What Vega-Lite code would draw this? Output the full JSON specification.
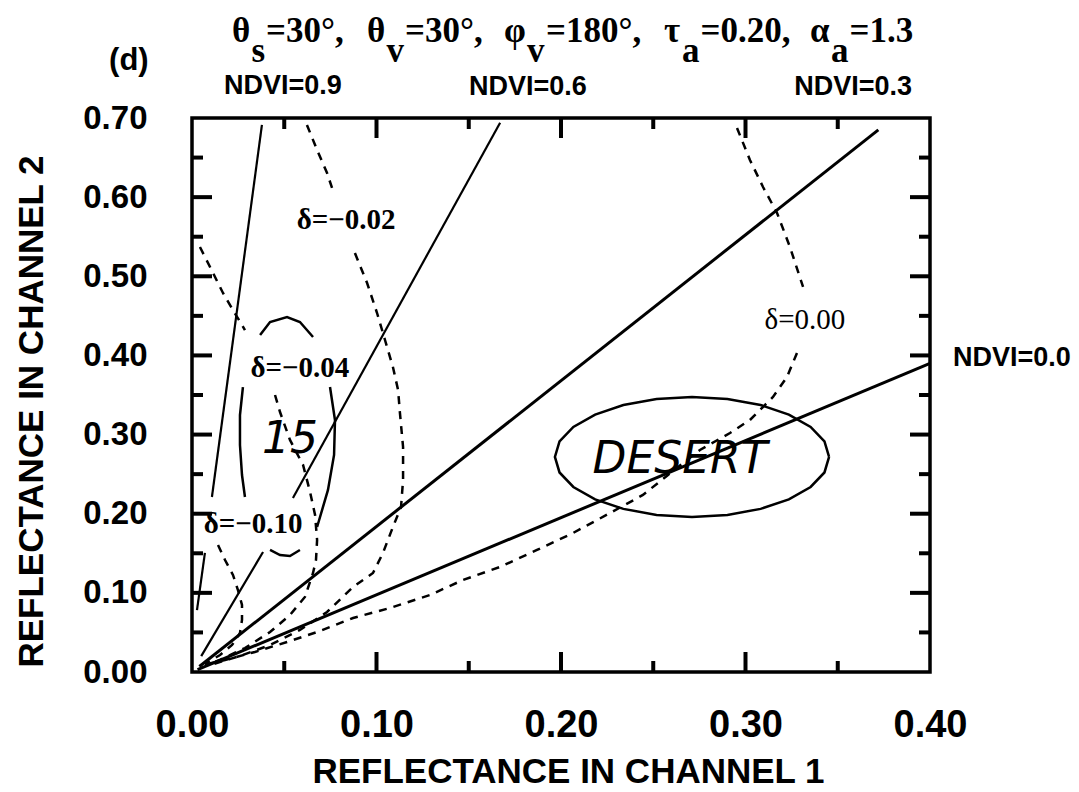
{
  "$schema": "https://vega.github.io/schema/vega-lite/v6.json",
  "width": 738,
  "height": 554,
  "autosize": {"type": "none"},
  "padding": {"left": 192, "top": 118, "right": 149, "bottom": 120},
  "background": "white",
  "config": {
    "view": {"stroke": "black", "strokeWidth": 3.5},
    "axis": {"grid": false, "domain": false}
  },
  "datasets": {
    "ndvi": [
      {"x": 0.003, "y": 0.003, "line": "0.0", "seg": "0.0"},
      {"x": 0.40, "y": 0.39, "line": "0.0", "seg": "0.0"},
      {"x": 0.004, "y": 0.007, "line": "0.3", "seg": "0.3"},
      {"x": 0.372, "y": 0.685, "line": "0.3", "seg": "0.3"},
      {"x": 0.005, "y": 0.020, "line": "0.6", "seg": "0.6a"},
      {"x": 0.0385, "y": 0.1516, "line": "0.6", "seg": "0.6a"},
      {"x": 0.0547, "y": 0.2199, "line": "0.6", "seg": "0.6b"},
      {"x": 0.167, "y": 0.694, "line": "0.6", "seg": "0.6b"},
      {"x": 0.0027, "y": 0.0783, "line": "0.9", "seg": "0.9a"},
      {"x": 0.0070, "y": 0.1504, "line": "0.9", "seg": "0.9a"},
      {"x": 0.0108, "y": 0.2211, "line": "0.9", "seg": "0.9b"},
      {"x": 0.0379, "y": 0.6912, "line": "0.9", "seg": "0.9b"}
    ],
    "ticks": [
      {"side": "bottom", "kind": "major", "x": 0.1, "y": 0},
      {"side": "bottom", "kind": "major", "x": 0.2, "y": 0},
      {"side": "bottom", "kind": "major", "x": 0.3, "y": 0},
      {"side": "bottom", "kind": "minor", "x": 0.05, "y": 0},
      {"side": "bottom", "kind": "minor", "x": 0.15, "y": 0},
      {"side": "bottom", "kind": "minor", "x": 0.25, "y": 0},
      {"side": "bottom", "kind": "minor", "x": 0.35, "y": 0},
      {"side": "top", "kind": "major", "x": 0.1, "y": 0.7},
      {"side": "top", "kind": "major", "x": 0.2, "y": 0.7},
      {"side": "top", "kind": "major", "x": 0.3, "y": 0.7},
      {"side": "top", "kind": "minor", "x": 0.05, "y": 0.7},
      {"side": "top", "kind": "minor", "x": 0.15, "y": 0.7},
      {"side": "top", "kind": "minor", "x": 0.25, "y": 0.7},
      {"side": "top", "kind": "minor", "x": 0.35, "y": 0.7},
      {"side": "left", "kind": "major", "x": 0, "y": 0.1},
      {"side": "left", "kind": "major", "x": 0, "y": 0.2},
      {"side": "left", "kind": "major", "x": 0, "y": 0.3},
      {"side": "left", "kind": "major", "x": 0, "y": 0.4},
      {"side": "left", "kind": "major", "x": 0, "y": 0.5},
      {"side": "left", "kind": "major", "x": 0, "y": 0.6},
      {"side": "left", "kind": "minor", "x": 0, "y": 0.05},
      {"side": "left", "kind": "minor", "x": 0, "y": 0.15},
      {"side": "left", "kind": "minor", "x": 0, "y": 0.25},
      {"side": "left", "kind": "minor", "x": 0, "y": 0.35},
      {"side": "left", "kind": "minor", "x": 0, "y": 0.45},
      {"side": "left", "kind": "minor", "x": 0, "y": 0.55},
      {"side": "left", "kind": "minor", "x": 0, "y": 0.65},
      {"side": "right", "kind": "major", "x": 0.4, "y": 0.1},
      {"side": "right", "kind": "major", "x": 0.4, "y": 0.2},
      {"side": "right", "kind": "major", "x": 0.4, "y": 0.3},
      {"side": "right", "kind": "major", "x": 0.4, "y": 0.4},
      {"side": "right", "kind": "major", "x": 0.4, "y": 0.5},
      {"side": "right", "kind": "major", "x": 0.4, "y": 0.6},
      {"side": "right", "kind": "minor", "x": 0.4, "y": 0.05},
      {"side": "right", "kind": "minor", "x": 0.4, "y": 0.15},
      {"side": "right", "kind": "minor", "x": 0.4, "y": 0.25},
      {"side": "right", "kind": "minor", "x": 0.4, "y": 0.35},
      {"side": "right", "kind": "minor", "x": 0.4, "y": 0.45},
      {"side": "right", "kind": "minor", "x": 0.4, "y": 0.55},
      {"side": "right", "kind": "minor", "x": 0.4, "y": 0.65}
    ],
    "delta": [
      {"c": "0.00", "seg": "0a", "o": 1, "x": 0.2954, "y": 0.6874},
      {"c": "0.00", "seg": "0a", "o": 2, "x": 0.3024, "y": 0.6470},
      {"c": "0.00", "seg": "0a", "o": 3, "x": 0.3095, "y": 0.6128},
      {"c": "0.00", "seg": "0a", "o": 4, "x": 0.3171, "y": 0.5800},
      {"c": "0.00", "seg": "0a", "o": 5, "x": 0.3241, "y": 0.5370},
      {"c": "0.00", "seg": "0a", "o": 6, "x": 0.3312, "y": 0.4865},
      {"c": "0.00", "seg": "0b", "o": 1, "x": 0.3279, "y": 0.4031},
      {"c": "0.00", "seg": "0b", "o": 2, "x": 0.3225, "y": 0.3728},
      {"c": "0.00", "seg": "0b", "o": 3, "x": 0.3149, "y": 0.3475},
      {"c": "0.00", "seg": "0b", "o": 4, "x": 0.3024, "y": 0.3184},
      {"c": "0.00", "seg": "0b", "o": 5, "x": 0.2916, "y": 0.3020},
      {"c": "0.00", "seg": "0b", "o": 6, "x": 0.2753, "y": 0.2805},
      {"c": "0.00", "seg": "0b", "o": 7, "x": 0.2575, "y": 0.2480},
      {"c": "0.00", "seg": "0b", "o": 8, "x": 0.2444, "y": 0.2237},
      {"c": "0.00", "seg": "0b", "o": 9, "x": 0.2266, "y": 0.2009},
      {"c": "0.00", "seg": "0b", "o": 10, "x": 0.2065, "y": 0.1756},
      {"c": "0.00", "seg": "0b", "o": 11, "x": 0.1870, "y": 0.1542},
      {"c": "0.00", "seg": "0b", "o": 12, "x": 0.1669, "y": 0.1327},
      {"c": "0.00", "seg": "0b", "o": 13, "x": 0.1469, "y": 0.1163},
      {"c": "0.00", "seg": "0b", "o": 14, "x": 0.1290, "y": 0.0973},
      {"c": "0.00", "seg": "0b", "o": 15, "x": 0.1073, "y": 0.0809},
      {"c": "0.00", "seg": "0b", "o": 16, "x": 0.0873, "y": 0.0682},
      {"c": "0.00", "seg": "0b", "o": 17, "x": 0.0678, "y": 0.0505},
      {"c": "0.00", "seg": "0b", "o": 18, "x": 0.0515, "y": 0.0379},
      {"c": "0.00", "seg": "0b", "o": 19, "x": 0.0341, "y": 0.0253},
      {"c": "0.00", "seg": "0b", "o": 20, "x": 0.0179, "y": 0.0152},
      {"c": "0.00", "seg": "0b", "o": 21, "x": 0.0081, "y": 0.0101},
      {"c": "-0.02", "seg": "2a", "o": 1, "x": 0.0623, "y": 0.6912},
      {"c": "-0.02", "seg": "2a", "o": 2, "x": 0.0678, "y": 0.6596},
      {"c": "-0.02", "seg": "2a", "o": 3, "x": 0.0732, "y": 0.6305},
      {"c": "-0.02", "seg": "2a", "o": 4, "x": 0.0759, "y": 0.6116},
      {"c": "-0.02", "seg": "2b", "o": 1, "x": 0.0883, "y": 0.5294},
      {"c": "-0.02", "seg": "2b", "o": 2, "x": 0.0949, "y": 0.4915},
      {"c": "-0.02", "seg": "2b", "o": 3, "x": 0.1003, "y": 0.4536},
      {"c": "-0.02", "seg": "2b", "o": 4, "x": 0.1046, "y": 0.4195},
      {"c": "-0.02", "seg": "2b", "o": 5, "x": 0.1089, "y": 0.3854},
      {"c": "-0.02", "seg": "2b", "o": 6, "x": 0.1117, "y": 0.3563},
      {"c": "-0.02", "seg": "2b", "o": 7, "x": 0.1127, "y": 0.3273},
      {"c": "-0.02", "seg": "2b", "o": 8, "x": 0.1144, "y": 0.2843},
      {"c": "-0.02", "seg": "2b", "o": 9, "x": 0.1144, "y": 0.2426},
      {"c": "-0.02", "seg": "2b", "o": 10, "x": 0.1133, "y": 0.2085},
      {"c": "-0.02", "seg": "2b", "o": 11, "x": 0.1089, "y": 0.1832},
      {"c": "-0.02", "seg": "2b", "o": 12, "x": 0.1035, "y": 0.1504},
      {"c": "-0.02", "seg": "2b", "o": 13, "x": 0.0981, "y": 0.1251},
      {"c": "-0.02", "seg": "2b", "o": 14, "x": 0.0873, "y": 0.1074},
      {"c": "-0.02", "seg": "2b", "o": 15, "x": 0.0732, "y": 0.0758},
      {"c": "-0.02", "seg": "2b", "o": 16, "x": 0.0585, "y": 0.0531},
      {"c": "-0.02", "seg": "2b", "o": 17, "x": 0.0423, "y": 0.0341},
      {"c": "-0.02", "seg": "2b", "o": 18, "x": 0.0260, "y": 0.0202},
      {"c": "-0.02", "seg": "2b", "o": 19, "x": 0.0098, "y": 0.0088},
      {"c": "-0.04", "seg": "4a", "o": 1, "x": 0.0043, "y": 0.5370},
      {"c": "-0.04", "seg": "4a", "o": 2, "x": 0.0114, "y": 0.5042},
      {"c": "-0.04", "seg": "4a", "o": 3, "x": 0.0168, "y": 0.4789},
      {"c": "-0.04", "seg": "4a", "o": 4, "x": 0.0222, "y": 0.4574},
      {"c": "-0.04", "seg": "4a", "o": 5, "x": 0.0287, "y": 0.4321},
      {"c": "-0.04", "seg": "4b", "o": 1, "x": 0.0450, "y": 0.3500},
      {"c": "-0.04", "seg": "4b", "o": 2, "x": 0.0477, "y": 0.3285},
      {"c": "-0.04", "seg": "4b", "o": 3, "x": 0.0531, "y": 0.2932},
      {"c": "-0.04", "seg": "4b", "o": 4, "x": 0.0602, "y": 0.2616},
      {"c": "-0.04", "seg": "4b", "o": 5, "x": 0.0640, "y": 0.2274},
      {"c": "-0.04", "seg": "4b", "o": 6, "x": 0.0667, "y": 0.1984},
      {"c": "-0.04", "seg": "4b", "o": 7, "x": 0.0678, "y": 0.1668},
      {"c": "-0.04", "seg": "4b", "o": 8, "x": 0.0672, "y": 0.1415},
      {"c": "-0.04", "seg": "4b", "o": 9, "x": 0.0656, "y": 0.1251},
      {"c": "-0.04", "seg": "4b", "o": 10, "x": 0.0612, "y": 0.0948},
      {"c": "-0.04", "seg": "4b", "o": 11, "x": 0.0531, "y": 0.0720},
      {"c": "-0.04", "seg": "4b", "o": 12, "x": 0.0423, "y": 0.0505},
      {"c": "-0.04", "seg": "4b", "o": 13, "x": 0.0287, "y": 0.0303},
      {"c": "-0.04", "seg": "4b", "o": 14, "x": 0.0152, "y": 0.0152},
      {"c": "-0.04", "seg": "4b", "o": 15, "x": 0.0070, "y": 0.0088},
      {"c": "-0.10", "seg": "10", "o": 1, "x": 0.0141, "y": 0.1605},
      {"c": "-0.10", "seg": "10", "o": 2, "x": 0.0179, "y": 0.1415},
      {"c": "-0.10", "seg": "10", "o": 3, "x": 0.0222, "y": 0.1226},
      {"c": "-0.10", "seg": "10", "o": 4, "x": 0.0249, "y": 0.1036},
      {"c": "-0.10", "seg": "10", "o": 5, "x": 0.0271, "y": 0.0847},
      {"c": "-0.10", "seg": "10", "o": 6, "x": 0.0271, "y": 0.0657},
      {"c": "-0.10", "seg": "10", "o": 7, "x": 0.0260, "y": 0.0493},
      {"c": "-0.10", "seg": "10", "o": 8, "x": 0.0217, "y": 0.0341},
      {"c": "-0.10", "seg": "10", "o": 9, "x": 0.0152, "y": 0.0215},
      {"c": "-0.10", "seg": "10", "o": 10, "x": 0.0070, "y": 0.0101}
    ],
    "pen": [
      {"seg": "arcTop", "o": 1, "x": 0.0369, "y": 0.4258},
      {"seg": "arcTop", "o": 2, "x": 0.0423, "y": 0.4422},
      {"seg": "arcTop", "o": 3, "x": 0.0515, "y": 0.4486},
      {"seg": "arcTop", "o": 4, "x": 0.0585, "y": 0.4422},
      {"seg": "arcTop", "o": 5, "x": 0.0656, "y": 0.4233},
      {"seg": "parenL", "o": 1, "x": 0.0276, "y": 0.3601},
      {"seg": "parenL", "o": 2, "x": 0.0260, "y": 0.3247},
      {"seg": "parenL", "o": 3, "x": 0.0260, "y": 0.2868},
      {"seg": "parenL", "o": 4, "x": 0.0271, "y": 0.2489},
      {"seg": "parenL", "o": 5, "x": 0.0287, "y": 0.2211},
      {"seg": "parenR", "o": 1, "x": 0.0748, "y": 0.3601},
      {"seg": "parenR", "o": 2, "x": 0.0775, "y": 0.3184},
      {"seg": "parenR", "o": 3, "x": 0.0770, "y": 0.2742},
      {"seg": "parenR", "o": 4, "x": 0.0737, "y": 0.2300},
      {"seg": "parenR", "o": 5, "x": 0.0678, "y": 0.1832},
      {"seg": "arcBot", "o": 1, "x": 0.0423, "y": 0.1542},
      {"seg": "arcBot", "o": 2, "x": 0.0477, "y": 0.1478},
      {"seg": "arcBot", "o": 3, "x": 0.0531, "y": 0.1466},
      {"seg": "arcBot", "o": 4, "x": 0.0585, "y": 0.1542},
      {"seg": "ellipse", "o": 1, "x": 0.3453, "y": 0.2717},
      {"seg": "ellipse", "o": 2, "x": 0.3428, "y": 0.2913},
      {"seg": "ellipse", "o": 3, "x": 0.3353, "y": 0.3096},
      {"seg": "ellipse", "o": 4, "x": 0.3235, "y": 0.3253},
      {"seg": "ellipse", "o": 5, "x": 0.3082, "y": 0.3373},
      {"seg": "ellipse", "o": 6, "x": 0.2902, "y": 0.3449},
      {"seg": "ellipse", "o": 7, "x": 0.2710, "y": 0.3475},
      {"seg": "ellipse", "o": 8, "x": 0.2518, "y": 0.3449},
      {"seg": "ellipse", "o": 9, "x": 0.2338, "y": 0.3373},
      {"seg": "ellipse", "o": 10, "x": 0.2185, "y": 0.3253},
      {"seg": "ellipse", "o": 11, "x": 0.2067, "y": 0.3096},
      {"seg": "ellipse", "o": 12, "x": 0.1992, "y": 0.2913},
      {"seg": "ellipse", "o": 13, "x": 0.1967, "y": 0.2717},
      {"seg": "ellipse", "o": 14, "x": 0.1992, "y": 0.2521},
      {"seg": "ellipse", "o": 15, "x": 0.2067, "y": 0.2338},
      {"seg": "ellipse", "o": 16, "x": 0.2185, "y": 0.2181},
      {"seg": "ellipse", "o": 17, "x": 0.2338, "y": 0.2061},
      {"seg": "ellipse", "o": 18, "x": 0.2518, "y": 0.1985},
      {"seg": "ellipse", "o": 19, "x": 0.2710, "y": 0.1959},
      {"seg": "ellipse", "o": 20, "x": 0.2902, "y": 0.1985},
      {"seg": "ellipse", "o": 21, "x": 0.3082, "y": 0.2061},
      {"seg": "ellipse", "o": 22, "x": 0.3235, "y": 0.2181},
      {"seg": "ellipse", "o": 23, "x": 0.3353, "y": 0.2338},
      {"seg": "ellipse", "o": 24, "x": 0.3428, "y": 0.2521},
      {"seg": "ellipse", "o": 25, "x": 0.3453, "y": 0.2717}
    ],
    "sansLabels": [
      {"x": 0.0493, "y": 0.7405, "t": "NDVI=0.9"},
      {"x": 0.1821, "y": 0.7392, "t": "NDVI=0.6"},
      {"x": 0.3583, "y": 0.7392, "t": "NDVI=0.3"},
      {"x": 0.4444, "y": 0.3968, "t": "NDVI=0.0"}
    ],
    "panel": [
      {"x": -0.0342, "y": 0.7720, "t": "(d)"}
    ],
    "deltaBold": [
      {"x": 0.0835, "y": 0.5711, "t": "δ=−0.02"},
      {"x": 0.0585, "y": 0.3841, "t": "δ=−0.04"},
      {"x": 0.0331, "y": 0.1870, "t": "δ=−0.10"}
    ],
    "deltaPlain": [
      {"x": 0.3322, "y": 0.4448, "t": "δ=0.00"}
    ],
    "titlePieces": [
      {"x": 0.02168, "y": 0.7961, "t": "θ"},
      {"x": 0.04011, "y": 0.7961, "t": "=30°,"},
      {"x": 0.09485, "y": 0.7961, "t": "θ"},
      {"x": 0.11545, "y": 0.7961, "t": "=30°,"},
      {"x": 0.16911, "y": 0.7961, "t": "φ"},
      {"x": 0.19187, "y": 0.7961, "t": "=180°,"},
      {"x": 0.25583, "y": 0.7961, "t": "τ"},
      {"x": 0.27561, "y": 0.7961, "t": "=0.20,"},
      {"x": 0.33496, "y": 0.7961, "t": "α"},
      {"x": 0.35637, "y": 0.7961, "t": "=1.3"},
      {"x": 0.03225, "y": 0.7708, "t": "s"},
      {"x": 0.10542, "y": 0.7708, "t": "v"},
      {"x": 0.18157, "y": 0.7708, "t": "v"},
      {"x": 0.26558, "y": 0.7708, "t": "a"},
      {"x": 0.34634, "y": 0.7708, "t": "a"}
    ],
    "hand": [
      {"x": 0.2645, "y": 0.2679, "t": "DESERT"},
      {"x": 0.0531, "y": 0.2932, "t": "15"}
    ]
  },
  "resolve": {"axis": {"x": "independent", "y": "independent"}},
  "layer": [
    {
      "data": {"name": "ndvi"},
      "mark": {"type": "line", "color": "black"},
      "encoding": {
        "x": {
          "field": "x", "type": "quantitative",
          "scale": {"domain": [0, 0.4], "nice": false, "zero": false},
          "axis": {
            "orient": "bottom", "values": [0, 0.1, 0.2, 0.3, 0.4], "format": ".2f",
            "ticks": false, "labelPadding": 34, "labelFlush": false, "labelOverlap": false, "labelBound": false,
            "labelFont": "Liberation Sans", "labelFontWeight": "bold", "labelFontSize": 38, "labelColor": "black",
            "title": "REFLECTANCE IN CHANNEL 1", "titleFont": "Liberation Sans", "titleFontWeight": "bold",
            "titleFontSize": 35, "titleColor": "black", "titleX": 376, "titleY": 110,
            "titleBaseline": "alphabetic", "titleAlign": "center"
          }
        },
        "y": {
          "field": "y", "type": "quantitative",
          "scale": {"domain": [0, 0.7], "nice": false, "zero": false},
          "axis": {
            "orient": "left", "values": [0, 0.1, 0.2, 0.3, 0.4, 0.5, 0.6, 0.7], "format": ".2f",
            "ticks": false, "labelPadding": 45, "labelFlush": false, "labelOverlap": false, "labelBound": false,
            "labelFont": "Liberation Sans", "labelFontWeight": "bold", "labelFontSize": 33, "labelColor": "black",
            "title": "REFLECTANCE IN CHANNEL 2", "titleFont": "Liberation Sans", "titleFontWeight": "bold",
            "titleFontSize": 35, "titleColor": "black", "titleX": -150, "titleY": 293, "titleAngle": -90,
            "titleBaseline": "alphabetic", "titleAlign": "center"
          }
        },
        "detail": {"field": "seg"},
        "strokeWidth": {"condition": {"test": "datum.line == '0.0' || datum.line == '0.3'", "value": 3}, "value": 2.2}
      }
    },
    {
      "data": {"name": "delta"},
      "mark": {"type": "line", "color": "black", "strokeWidth": 2.5, "strokeDash": [8, 7]},
      "encoding": {
        "x": {"field": "x", "type": "quantitative", "scale": {"domain": [0, 0.4], "nice": false, "zero": false}, "axis": null},
        "y": {"field": "y", "type": "quantitative", "scale": {"domain": [0, 0.7], "nice": false, "zero": false}, "axis": null},
        "detail": {"field": "seg"},
        "order": {"field": "o", "type": "quantitative"}
      }
    },
    {
      "data": {"name": "pen"},
      "mark": {"type": "line", "color": "black", "strokeWidth": 2.5},
      "encoding": {
        "x": {"field": "x", "type": "quantitative", "scale": {"domain": [0, 0.4], "nice": false, "zero": false}, "axis": null},
        "y": {"field": "y", "type": "quantitative", "scale": {"domain": [0, 0.7], "nice": false, "zero": false}, "axis": null},
        "detail": {"field": "seg"},
        "order": {"field": "o", "type": "quantitative"}
      }
    },
    {
      "data": {"name": "ticks"},
      "transform": [{"filter": "datum.side == 'bottom' && datum.kind == 'major'"}],
      "mark": {"type": "tick", "orient": "vertical", "size": 20, "thickness": 4, "yOffset": -10, "color": "black", "opacity": 1},
      "encoding": {
        "x": {"field": "x", "type": "quantitative", "scale": {"domain": [0, 0.4], "nice": false, "zero": false}, "axis": null},
        "y": {"field": "y", "type": "quantitative", "scale": {"domain": [0, 0.7], "nice": false, "zero": false}, "axis": null}
      }
    },
    {
      "data": {"name": "ticks"},
      "transform": [{"filter": "datum.side == 'bottom' && datum.kind == 'minor'"}],
      "mark": {"type": "tick", "orient": "vertical", "size": 11, "thickness": 4, "yOffset": -5.5, "color": "black", "opacity": 1},
      "encoding": {
        "x": {"field": "x", "type": "quantitative", "scale": {"domain": [0, 0.4], "nice": false, "zero": false}, "axis": null},
        "y": {"field": "y", "type": "quantitative", "scale": {"domain": [0, 0.7], "nice": false, "zero": false}, "axis": null}
      }
    },
    {
      "data": {"name": "ticks"},
      "transform": [{"filter": "datum.side == 'top' && datum.kind == 'major'"}],
      "mark": {"type": "tick", "orient": "vertical", "size": 20, "thickness": 4, "yOffset": 10, "color": "black", "opacity": 1},
      "encoding": {
        "x": {"field": "x", "type": "quantitative", "scale": {"domain": [0, 0.4], "nice": false, "zero": false}, "axis": null},
        "y": {"field": "y", "type": "quantitative", "scale": {"domain": [0, 0.7], "nice": false, "zero": false}, "axis": null}
      }
    },
    {
      "data": {"name": "ticks"},
      "transform": [{"filter": "datum.side == 'top' && datum.kind == 'minor'"}],
      "mark": {"type": "tick", "orient": "vertical", "size": 11, "thickness": 4, "yOffset": 5.5, "color": "black", "opacity": 1},
      "encoding": {
        "x": {"field": "x", "type": "quantitative", "scale": {"domain": [0, 0.4], "nice": false, "zero": false}, "axis": null},
        "y": {"field": "y", "type": "quantitative", "scale": {"domain": [0, 0.7], "nice": false, "zero": false}, "axis": null}
      }
    },
    {
      "data": {"name": "ticks"},
      "transform": [{"filter": "datum.side == 'left' && datum.kind == 'major'"}],
      "mark": {"type": "tick", "orient": "horizontal", "size": 20, "thickness": 4, "xOffset": 10, "color": "black", "opacity": 1},
      "encoding": {
        "x": {"field": "x", "type": "quantitative", "scale": {"domain": [0, 0.4], "nice": false, "zero": false}, "axis": null},
        "y": {"field": "y", "type": "quantitative", "scale": {"domain": [0, 0.7], "nice": false, "zero": false}, "axis": null}
      }
    },
    {
      "data": {"name": "ticks"},
      "transform": [{"filter": "datum.side == 'left' && datum.kind == 'minor'"}],
      "mark": {"type": "tick", "orient": "horizontal", "size": 11, "thickness": 4, "xOffset": 5.5, "color": "black", "opacity": 1},
      "encoding": {
        "x": {"field": "x", "type": "quantitative", "scale": {"domain": [0, 0.4], "nice": false, "zero": false}, "axis": null},
        "y": {"field": "y", "type": "quantitative", "scale": {"domain": [0, 0.7], "nice": false, "zero": false}, "axis": null}
      }
    },
    {
      "data": {"name": "ticks"},
      "transform": [{"filter": "datum.side == 'right' && datum.kind == 'major'"}],
      "mark": {"type": "tick", "orient": "horizontal", "size": 20, "thickness": 4, "xOffset": -10, "color": "black", "opacity": 1},
      "encoding": {
        "x": {"field": "x", "type": "quantitative", "scale": {"domain": [0, 0.4], "nice": false, "zero": false}, "axis": null},
        "y": {"field": "y", "type": "quantitative", "scale": {"domain": [0, 0.7], "nice": false, "zero": false}, "axis": null}
      }
    },
    {
      "data": {"name": "ticks"},
      "transform": [{"filter": "datum.side == 'right' && datum.kind == 'minor'"}],
      "mark": {"type": "tick", "orient": "horizontal", "size": 11, "thickness": 4, "xOffset": -5.5, "color": "black", "opacity": 1},
      "encoding": {
        "x": {"field": "x", "type": "quantitative", "scale": {"domain": [0, 0.4], "nice": false, "zero": false}, "axis": null},
        "y": {"field": "y", "type": "quantitative", "scale": {"domain": [0, 0.7], "nice": false, "zero": false}, "axis": null}
      }
    },
    {
      "data": {"name": "sansLabels"},
      "mark": {"type": "text", "font": "Liberation Sans", "fontWeight": "bold", "fontSize": 27, "color": "black", "align": "center", "baseline": "middle"},
      "encoding": {
        "x": {"field": "x", "type": "quantitative", "scale": {"domain": [0, 0.4], "nice": false, "zero": false}, "axis": null},
        "y": {"field": "y", "type": "quantitative", "scale": {"domain": [0, 0.7], "nice": false, "zero": false}, "axis": null},
        "text": {"field": "t"}
      }
    },
    {
      "data": {"name": "panel"},
      "mark": {"type": "text", "font": "Liberation Sans", "fontWeight": "bold", "fontSize": 31, "color": "black", "align": "center", "baseline": "middle"},
      "encoding": {
        "x": {"field": "x", "type": "quantitative", "scale": {"domain": [0, 0.4], "nice": false, "zero": false}, "axis": null},
        "y": {"field": "y", "type": "quantitative", "scale": {"domain": [0, 0.7], "nice": false, "zero": false}, "axis": null},
        "text": {"field": "t"}
      }
    },
    {
      "data": {"name": "deltaBold"},
      "mark": {"type": "text", "font": "Liberation Serif", "fontWeight": "bold", "fontSize": 29, "color": "black", "align": "center", "baseline": "middle"},
      "encoding": {
        "x": {"field": "x", "type": "quantitative", "scale": {"domain": [0, 0.4], "nice": false, "zero": false}, "axis": null},
        "y": {"field": "y", "type": "quantitative", "scale": {"domain": [0, 0.7], "nice": false, "zero": false}, "axis": null},
        "text": {"field": "t"}
      }
    },
    {
      "data": {"name": "deltaPlain"},
      "mark": {"type": "text", "font": "Liberation Serif", "fontWeight": "normal", "fontSize": 29, "color": "black", "align": "center", "baseline": "middle"},
      "encoding": {
        "x": {"field": "x", "type": "quantitative", "scale": {"domain": [0, 0.4], "nice": false, "zero": false}, "axis": null},
        "y": {"field": "y", "type": "quantitative", "scale": {"domain": [0, 0.7], "nice": false, "zero": false}, "axis": null},
        "text": {"field": "t"}
      }
    },
    {
      "data": {"name": "titlePieces"},
      "mark": {"type": "text", "font": "Liberation Serif", "fontWeight": "bold", "fontSize": 35, "color": "black", "align": "left", "baseline": "alphabetic"},
      "encoding": {
        "x": {"field": "x", "type": "quantitative", "scale": {"domain": [0, 0.4], "nice": false, "zero": false}, "axis": null},
        "y": {"field": "y", "type": "quantitative", "scale": {"domain": [0, 0.7], "nice": false, "zero": false}, "axis": null},
        "text": {"field": "t"}
      }
    },
    {
      "data": {"name": "hand"},
      "mark": {"type": "text", "font": "DejaVu Sans", "fontStyle": "italic", "fontWeight": "normal", "fontSize": 44, "color": "black", "align": "center", "baseline": "middle"},
      "encoding": {
        "x": {"field": "x", "type": "quantitative", "scale": {"domain": [0, 0.4], "nice": false, "zero": false}, "axis": null},
        "y": {"field": "y", "type": "quantitative", "scale": {"domain": [0, 0.7], "nice": false, "zero": false}, "axis": null},
        "text": {"field": "t"}
      }
    }
  ]
}
